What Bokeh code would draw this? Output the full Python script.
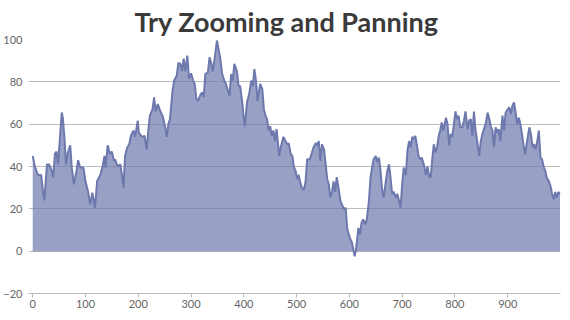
from bokeh.plotting import figure
from bokeh.models import FixedTicker, Range1d
from bokeh.embed import file_html
from bokeh.resources import INLINE

# ---- data ----
x_vals = [0, 4, 10, 16, 20, 22, 27, 31, 36, 39, 42, 45, 48, 52, 55, 57, 60, 63, 66, 71,
          74, 78, 83, 86, 90, 96, 100, 105, 109, 113, 118, 122, 128, 132, 136, 138, 142, 146, 150, 154,
          156, 161, 166, 169, 172, 175, 179, 183, 186, 191, 194, 199, 201, 207, 212, 216, 219, 222, 227, 230,
          233, 237, 242, 246, 251, 254, 257, 260, 265, 268, 273, 276, 280, 283, 286, 289, 293, 296, 300, 304,
          307, 310, 313, 318,
          321, 324, 327, 332, 335, 338, 341, 345, 349, 352, 355, 359, 363, 366, 370, 373, 376, 379, 382, 387,
          390, 393, 397, 400, 402, 406, 410, 414, 417, 420, 423, 426, 429, 431, 435, 438, 441, 444, 447, 450,
          453, 456, 459, 462, 467, 470, 475, 479, 482,
          485, 489, 492, 495, 498, 501, 504, 507, 510, 514, 517, 520, 525, 528, 532, 536, 539, 542, 545, 548,
          552, 555, 558, 561, 564, 567, 570, 573, 576, 580, 583, 586, 590, 593, 596, 599, 602, 605, 608, 610,
          612, 615, 617, 620, 623, 626, 630, 633, 637, 640, 643, 646,
          650, 653, 656, 659, 662, 665, 669, 672, 675, 678, 681, 684, 688, 691, 694, 697, 700, 703, 707, 710,
          713, 716, 719, 722, 725, 728, 731, 734, 737, 741, 745, 748, 751, 754, 757, 760, 763, 766, 769, 772,
          775, 778, 783, 786, 789, 792, 795, 798, 801, 804, 807, 810,
          814, 817, 820, 824, 827, 830, 833, 836, 839, 843, 846, 849, 852, 855, 858, 862, 865, 868, 871, 874,
          877, 880, 883, 886, 890, 893, 896, 900, 903, 906, 909, 912, 915, 918, 921, 924, 927, 930, 933, 936,
          941, 944, 947, 950, 953, 956, 959, 962, 965, 968, 971, 974, 978, 981, 984, 987, 990, 993, 996, 999]

y_vals = [45, 40, 36, 36, 27, 24, 41, 41, 38, 35, 46, 47, 41, 55, 65.5, 63, 54, 41, 46, 50,
          39.5, 31.6, 38, 43, 39.5, 39.5, 33, 28, 22, 27.6, 20.5, 33, 36, 39.5, 45, 39.5, 50, 46, 47, 42.6,
          43.4, 40, 41, 36, 30, 45, 49, 50.5, 54.5, 57, 54, 61.6, 56, 54, 54.5, 48, 57, 64, 67, 72.7,
          66, 69.5, 66, 64, 58.5, 54, 60, 62.4, 76, 80.6, 83, 89, 88.5, 85, 91, 85, 92.4, 81.5, 84, 80.6,
          79, 72, 71, 74,
          75, 72.7, 83.7, 84.5, 91.6, 89, 85, 91.6, 99.5, 95.6, 91.6, 83.7, 80.6, 79, 75.8, 73.5, 83.7, 80.6, 88.5, 85,
          78, 78, 70.3, 62.4, 59, 70.3, 74, 80.6, 78, 86, 80.6, 71, 75.8, 79, 76.6, 67, 64, 62.4, 57, 59,
          54.5, 57, 52, 57.7, 45, 49, 54, 52, 50.5,
          51, 45.8, 45, 39.5, 38, 34, 36, 32.4, 30, 29, 33, 43.4, 43.4, 45.8, 49, 51, 50, 52, 42.6, 50.5,
          48, 41, 34, 31.6, 25.3, 28, 33, 28, 35, 29, 23.7, 22, 19.7, 20.5, 10.3, 7.9, 5.5, 4, 0, -2.4,
          0, 6.3, 11, 7.9, 13.4, 15, 12.6, 15, 23.7, 34.7, 39.5, 43.4,
          45, 42, 44.2, 38, 29, 25.3, 33, 38, 41, 34.7, 27, 28, 25.3, 27, 23.7, 20.5, 31.6, 39.5, 36, 47.4,
          52, 49, 54, 53, 54.5, 50, 45, 43.4, 44.2, 41, 36, 40, 35.5, 34.7, 43.4, 50.5, 46.6, 49, 54, 57,
          60.8, 57, 63, 60, 50, 55.3, 54, 60, 66, 62.4, 64, 58.5,
          58.5, 61.6, 66, 57.7, 61.6, 62.4, 54.5, 66, 57, 50.5, 45, 52, 55.3, 57.7, 60, 65.4, 62.4, 59, 57, 49,
          58.5, 56, 57.7, 52, 64, 57, 65.4, 67, 68, 64.8, 68.7, 70.3, 65.4, 60, 63, 60, 55.3, 50, 45.8, 51,
          58.5, 55.3, 49, 50.5, 48, 52, 57, 44.2, 43.4, 40, 38, 34.7, 33, 30.8, 27, 24.5, 28, 25.3, 28, 27]

x_ticks = [0, 100, 200, 300, 400, 500, 600, 700, 800, 900]
y_ticks = [-20, 0, 20, 40, 60, 80, 100]

title_text = "Try Zooming and Panning"

# ---- figure ----
p = figure(width=570, height=320, output_backend="svg", toolbar_location=None,
           x_range=Range1d(-8, 1000), y_range=Range1d(-20, 100),
           min_border_left=28, min_border_right=10, min_border_top=39, min_border_bottom=27)

p.title.text = title_text
p.title.align = "left"
p.title.offset = 106
p.title.text_font = "Lato"
p.title.text_font_size = "27px"
p.title.text_font_style = "bold"
p.title.text_color = "#3A3A3A"
p.title.standoff = 4

p.outline_line_color = None
p.background_fill_color = "white"
p.border_fill_color = "white"

p.varea(x=x_vals, y1=0, y2=y_vals, fill_color="#6D78AD", fill_alpha=0.7)
p.line(x_vals, y_vals, line_color="#6D78AD", line_width=2)

# x axis
p.xaxis.ticker = FixedTicker(ticks=x_ticks)
p.xaxis.axis_line_color = "#BBBBBB"
p.xaxis.major_tick_line_color = "#BBBBBB"
p.xaxis.major_tick_out = 4
p.xaxis.major_tick_in = 0
p.xaxis.minor_tick_line_color = None
p.xaxis.major_label_standoff = 2
p.xaxis.major_label_text_font = "Lato"
p.xaxis.major_label_text_font_size = "11px"
p.xaxis.major_label_text_color = "#666666"

# y axis
p.yaxis.ticker = FixedTicker(ticks=y_ticks)
p.yaxis.axis_line_color = None
p.yaxis.major_tick_line_color = None
p.yaxis.minor_tick_line_color = None
p.yaxis.major_tick_out = 0
p.yaxis.major_tick_in = 0
p.yaxis.major_label_standoff = 6
p.yaxis.major_label_text_font = "Lato"
p.yaxis.major_label_text_font_size = "11px"
p.yaxis.major_label_text_color = "#666666"

p.xgrid.grid_line_color = None
p.ygrid.grid_line_color = "#BBBBBB"
p.ygrid.grid_line_width = 1

open("out.html", "w").write(file_html(p, INLINE))
